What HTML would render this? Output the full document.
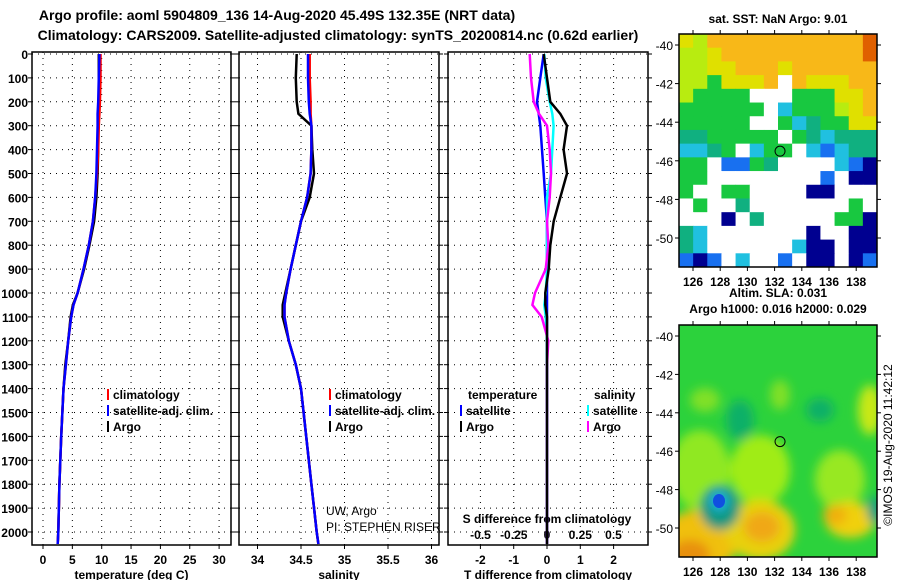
<!DOCTYPE html>
<html><head><meta charset="utf-8"><style>
html,body{margin:0;padding:0;background:#fff;}
svg{display:block;font-family:"Liberation Sans",Arial,sans-serif;}
.b{font-weight:bold;}
</style></head><body>
<svg id="s" width="900" height="580" viewBox="0 0 900 580" xmlns="http://www.w3.org/2000/svg">
<text x="277" y="20" text-anchor="middle" class="b" font-size="14">Argo profile: aoml 5904809_136 14-Aug-2020 45.49S 132.35E (NRT data)</text>
<text x="338" y="40" text-anchor="middle" class="b" font-size="14">Climatology: CARS2009. Satellite-adjusted climatology: synTS_20200814.nc (0.62d earlier)</text>
<text x="778" y="23" text-anchor="middle" class="b" font-size="12">sat. SST: NaN Argo: 9.01</text>
<text x="778" y="297" text-anchor="middle" class="b" font-size="12">Altim. SLA: 0.031</text>
<text x="778" y="313" text-anchor="middle" class="b" font-size="12">Argo h1000: 0.016 h2000: 0.029</text>
<g id="g"></g>
</svg>
<script>
// ---- data ----
const depths = [0,100,200,250,300,400,500,600,700,800,900,1000,1050,1100,1200,1300,1400,1600,1800,2000,2050];
const tempArgo = [9.5,9.5,9.5,9.5,9.4,9.4,9.3,9.1,8.7,7.9,7.0,5.9,5.1,4.7,4.3,3.8,3.5,3.1,2.8,2.6,2.5];
const tempClim = [9.8,9.8,9.7,9.6,9.5,9.4,9.2,8.9,8.5,7.8,6.9,5.9,5.2,4.8,4.3,3.9,3.5,3.1,2.8,2.6,2.5];
const tempSat  = [9.6,9.5,9.4,9.3,9.3,9.2,9.1,8.9,8.5,7.8,6.9,5.9,5.2,4.8,4.3,3.9,3.5,3.1,2.8,2.6,2.5];
const salArgo = [34.45,34.44,34.45,34.47,34.62,34.63,34.65,34.60,34.50,34.44,34.38,34.32,34.29,34.29,34.36,34.44,34.50,34.56,34.62,34.68,34.70];
const salClim = [34.60,34.60,34.61,34.61,34.62,34.62,34.61,34.57,34.50,34.44,34.38,34.33,34.31,34.31,34.36,34.44,34.50,34.56,34.62,34.68,34.70];
const salSat  = [34.58,34.58,34.59,34.60,34.62,34.62,34.61,34.57,34.50,34.44,34.38,34.33,34.31,34.31,34.36,34.44,34.50,34.56,34.62,34.68,34.70];
const tDiffArgo = [-0.1,0.0,0.1,0.4,0.6,0.5,0.6,0.4,0.2,0.1,0.05,-0.05,-0.05,0.0,0.0,0.0,0.0,0.0,0.0,0.0,0.0];
const tDiffSat  = [-0.1,-0.2,-0.3,-0.25,-0.2,-0.15,-0.1,-0.05,0.0,0.0,0.0,0.0,0.0,0.0,0.0,0.0,0.0,0.0,0.0,0.0,0.0];
const sDiffArgo = [-0.13,-0.12,-0.1,-0.06,0.0,0.02,0.03,0.02,0.0,0.01,-0.01,-0.09,-0.11,-0.04,0.01,0.0,0.0,0.0,0.0,0.0,0.0];
const sDiffSat  = [-0.02,-0.01,0.02,0.04,0.05,0.04,0.03,0.0,0.0,0.0,0.0,-0.01,-0.02,-0.01,0.0,0.0,0.0,0.0,0.0,0.0,0.0];
const depthTicks = [0,100,200,300,400,500,600,700,800,900,1000,1100,1200,1300,1400,1500,1600,1700,1800,1900,2000];
const tempTicks = [0,5,10,15,20,25,30];
const salTicks = [34,34.5,35,35.5,36];
const tDiffTicks = [-2,-1,0,1,2];
const sDiffTicks = [-0.5,-0.25,0,0.25,0.5];
const latTicks = [-40,-42,-44,-46,-48,-50];
const lonTicks = [126,128,130,132,134,136,138];
const sstRows = [
"ylooooooooooor","llyoooooooooor","llyyoooyoooooo","llgyyyowoyyyoo","lggggwwwgggyyo",
"ggggggwcggglyo","gggggwwgctggyy","ttgggggwgtcttt","cctgwcggwcbctt","ggwbbgtwwwwcbn",
"ggwwwwwwwwbwnn","gwwggwwwwnnwww","wgwwtwwwwwwwgw","wwwnwtwwwwwggn","tcwwwwwwwnwwnn",
"tcwwwwwwcnnwnn","bnbwcwwbwnnwnb"];
const floatLon = 132.4, floatLat = -45.5;

const NS="http://www.w3.org/2000/svg";
const G=document.getElementById('g');
function el(tag,attrs,parent){const e=document.createElementNS(NS,tag);for(const k in attrs)e.setAttribute(k,attrs[k]);(parent||G).appendChild(e);return e;}
function txt(x,y,s,size,anchor,bold,parent){const t=el('text',{x:x,y:y,'font-size':size,'text-anchor':anchor||'middle'},parent);if(bold)t.setAttribute('font-weight','bold');t.textContent=s;return t;}

const y0=54, yPer=0.239; // px per dbar
const dy=d=>y0+d*yPer;
const panels=[
 {x0:32,x1:231,f:v=>43+v*5.87,ticks:tempTicks,title:'temperature (deg C)',name:'temperature-panel'},
 {x0:239,x1:439,f:v=>257.5+(v-34)*87,ticks:salTicks,title:'salinity',name:'salinity-panel'},
 {x0:448,x1:648,f:v=>547+v*33.3,ticks:tDiffTicks,title:'T difference from climatology',name:'difference-panel'}
];
const sx=v=>547+v*133;
panels.forEach((p,i)=>{
 const g=el('g',{});
 
 
 p.ticks.forEach(t=>{const x=p.f(t);
  el('line',{x1:x,x2:x,y1:52,y2:545,stroke:'#000','stroke-dasharray':'1,5','stroke-width':1},g);
  el('line',{x1:x,x2:x,y1:545,y2:549,stroke:'#000'},g);
  const lt=txt(x,564,String(t),12,'middle',true,g);
  
  
 });
 depthTicks.forEach(d=>{const y=dy(d);
  el('line',{x1:p.x0,x2:p.x1,y1:y,y2:y,stroke:'#000','stroke-dasharray':'1,5'},g);
  el('line',{x1:p.x0-4,x2:p.x0,y1:y,y2:y,stroke:'#000'},g);
  el('line',{x1:p.x1,x2:p.x1+4,y1:y,y2:y,stroke:'#000'},g);
  if(i===0){const lt=txt(28,y+5,String(d),12,'end',true,g);
   
   }
 });
 el('rect',{x:p.x0,y:52,width:p.x1-p.x0,height:493,fill:'none',stroke:'#000','stroke-width':1.5},g);
 const at=txt((p.x0+p.x1)/2,579,p.title,12,'middle',true,g);
 
 
});
sDiffTicks.forEach(t=>{const st=txt(sx(t),539,String(t),12,'middle',true);
 
 });
const sdt=txt(547,523,'S difference from climatology',12,'middle',true);



function line(vals,f,color,name){
 let d='';vals.forEach((v,k)=>{d+=(k?'L':'M')+f(v).toFixed(1)+','+dy(depths[k]).toFixed(1);});
 const p=el('path',{d:d,fill:'none',stroke:color,'stroke-width':2.5,'stroke-linecap':'butt'});
 
 
}
const f0=panels[0].f,f1=panels[1].f,f2=panels[2].f;
line(tempArgo,f0,'#000','temp-argo-line');
line(tempClim,f0,'#f00','temp-clim-line');
line(tempSat,f0,'#00f','temp-sat-line');
line(salArgo,f1,'#000','sal-argo-line');
line(salClim,f1,'#f00','sal-clim-line');
line(salSat,f1,'#00f','sal-sat-line');
line(tDiffSat,f2,'#00f','tdiff-sat-line');
line(sDiffSat,sx,'#0ff','sdiff-sat-line');
line(sDiffArgo,sx,'#f0f','sdiff-argo-line');
line(tDiffArgo,f2,'#000','tdiff-argo-line');

function legend(x,y,color,label,name){
 el('rect',{x:x,y:y-10,width:2,height:11,fill:color});
 const t=txt(x+6,y,label,12,'start',true);
 
 
}
[[107,'#f00','climatology'],[107,'#00f','satellite-adj. clim.'],[107,'#000','Argo']].forEach((a,k)=>{
 legend(a[0],399+k*16,a[1],a[2],'legend-entry');
 legend(329,399+k*16,a[1],a[2],'legend-entry');
});
const lt1=txt(468,399,'temperature',12,'start',true);


const lt2=txt(594,399,'salinity',12,'start',true);


legend(460,415,'#00f','satellite','legend-entry');
legend(460,431,'#000','Argo','legend-entry');
legend(587,415,'#0ff','satellite','legend-entry');
legend(587,431,'#f0f','Argo','legend-entry');
const c1=txt(326,515,'UW, Argo',12,'start',false);


const c2=txt(326,531,'PI: STEPHEN RISER',12,'start',false);



// ---- maps ----
const cmap={y:'#e0e000',l:'#b8ec10',o:'#f8b818',r:'#e06000',g:'#18c840',t:'#10b080',c:'#20c0e0',b:'#1870f0',n:'#000090',w:'#ffffff'};
function mapAxes(x0,y0m,x1,y1m,latY,name){
 const g=el('g',{});
 
 
 latTicks.forEach(l=>{const y=latY(l);
  el('line',{x1:x0-4,x2:x0,y1:y,y2:y,stroke:'#000'},g);
  el('line',{x1:x1,x2:x1+4,y1:y,y2:y,stroke:'#000'},g);
  const t=txt(x0-6,y+5,String(l),12,'end',false,g);
  
  
 });
 lonTicks.forEach(l=>{const x=693+(l-126)*13.6;
  el('line',{x1:x,x2:x,y1:y1m,y2:y1m+4,stroke:'#000'},g);
  el('line',{x1:x,x2:x,y1:y0m-4,y2:y0m,stroke:'#000'},g);
  const t=txt(x,y1m+19,String(l),12,'middle',true,g);
  
  
 });
 el('rect',{x:x0,y:y0m,width:x1-x0,height:y1m-y0m,fill:'none',stroke:'#000','stroke-width':1.5},g);
}
// SST map
const m1=el('g',{});


const cw=(877-679)/14, ch=(267-34)/sstRows.length;
sstRows.forEach((r,ri)=>{[...r].forEach((c,ci)=>{
 const cell=el('rect',{x:679+ci*cw,y:34+ri*ch,width:cw+0.5,height:ch+0.5,fill:cmap[c]},m1);
 
 
});});
const latY1=l=>45+(-40-l)*19.3;
const fx=693+(floatLon-126)*13.6;
const fm=el('circle',{cx:fx,cy:latY1(floatLat),r:5,fill:'#18c840',stroke:'#000','stroke-width':1});


mapAxes(679,34,877,267,latY1,'sst-map-axes');
// SLA map
const m2=el('g',{});


const defs=el('defs',{});
const flt=el('filter',{id:'bl',x:'-50%',y:'-50%',width:'200%',height:'200%'},defs);
el('feGaussianBlur',{stdDeviation:5},flt);
const clip=el('clipPath',{id:'cp'},defs);
el('rect',{x:679,y:325,width:198,height:232},clip);
const mg=el('g',{'clip-path':'url(#cp)'},m2);
el('rect',{x:679,y:325,width:198,height:232,fill:'#2cd23c'},mg);
const bl=el('g',{filter:'url(#bl)'},mg);
[[700,470,30,40,'#90e820'],[760,470,30,35,'#a0ec18'],[840,480,25,30,'#98e820'],[870,410,12,25,'#c8e818'],
 [700,540,40,30,'#f0c010'],[760,530,35,30,'#e8d010'],[690,555,20,15,'#e89010'],[762,527,18,15,'#f0a818'],
 [850,520,25,18,'#f0d010'],[835,515,12,10,'#f0b010'],[720,508,20,22,'#109880'],[820,410,14,12,'#10b068'],
 [740,420,14,20,'#10b068'],[705,400,15,12,'#80e028'],[780,395,10,15,'#80e028'],[875,510,8,14,'#10a080']
].forEach(b=>{const e=el('ellipse',{cx:b[0],cy:b[1],rx:b[2],ry:b[3],fill:b[4]},bl);
 
 });
el('ellipse',{cx:719,cy:501,rx:10,ry:11,fill:'#20b0e0',filter:'url(#bl)'},mg);
const eddy=el('ellipse',{cx:719,cy:501,rx:6,ry:7,fill:'#1050e0'},mg);


const latY2=l=>336+(-40-l)*19.2;
const fm2=el('circle',{cx:fx,cy:latY2(floatLat),r:5,fill:'none',stroke:'#000','stroke-width':1});


mapAxes(679,325,877,557,latY2,'sla-map-axes');
const cr=txt(0,0,'\u00A9IMOS 19-Aug-2020 11:42:12',12,'middle',false);
cr.setAttribute('transform','translate(892,445) rotate(-90)');


</script>
</body></html>
